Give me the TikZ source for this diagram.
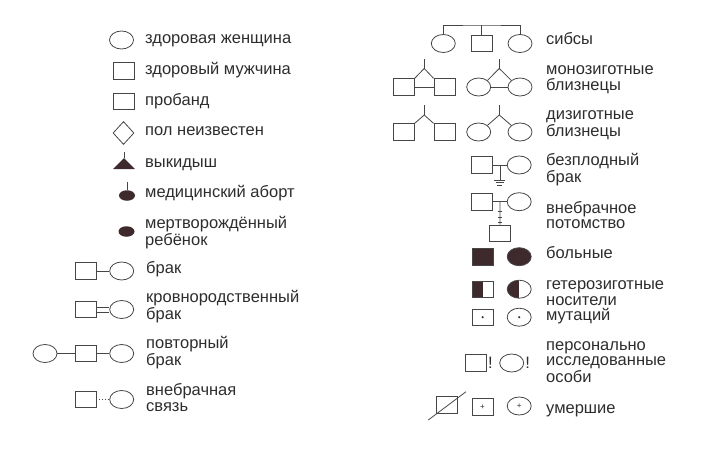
\documentclass[tikz,border=0pt]{standalone}
\usepackage{fontspec}
\setmainfont{Liberation Sans}
\usetikzlibrary{shapes.geometric, positioning}
\definecolor{ink}{RGB}{70,70,70}
\definecolor{txt}{RGB}{45,45,45}
\definecolor{sick}{RGB}{62,42,44}
\tikzstyle{female} = [ellipse, draw=ink, line width=0.8pt, minimum width=24pt, minimum height=18pt, inner sep=0pt]
\tikzstyle{male} = [rectangle, draw=ink, line width=0.8pt, minimum width=21pt, minimum height=16.5pt, inner sep=0pt]
\tikzstyle{unknown} = [diamond, draw=ink, line width=0.8pt, minimum width=21pt, minimum height=23pt, inner sep=0pt]
\tikzstyle{blob} = [ellipse, fill=sick, minimum width=16pt, minimum height=10.5pt, inner sep=0pt]
\tikzstyle{halffill} = [path picture={\fill[sick] (path picture bounding box.north west) rectangle (path picture bounding box.south);}]
\tikzstyle{lbl} = [anchor=base west, inner sep=0pt, align=left, text=txt, font=\fontsize{16.5}{15.3}\selectfont]
\tikzstyle{line} = [draw=ink, line width=0.8pt]

\begin{document}
\begin{tikzpicture}[x=1pt,y=-1pt]
\useasboundingbox (0,0) rectangle (705,463);

% Single persons
\node[female] (wf) at (121.5,40) {};
\node[male] (hm) at (123.5,71) {};
\node[male] (pb) at (123.5,101.5) {};
\node[unknown] (ns) at (123.5,133) {};
\coordinate (mc) at (124,158);
\fill[sick] (mc) -- (113,169) -- (135,169) -- cycle;
\draw[line] (mc) -- ++(0,-6);
\node[blob] (ab) at (127,195.5) {};
\draw[line] (ab.north) -- ++(0,-8);
\node[blob] (sb) at (126.5,231.5) {};

% Marriages
\node[male] (bm) at (85.5,271) {};
\node[female] (bf) at (121.7,271) {};
\draw[line] (bm) -- (bf);
\node[male] (km) at (85.5,309.5) {};
\node[female] (kf) at (121.7,309.5) {};
\draw[line] ([yshift=2.5pt]km.east) -- ([yshift=2.5pt]kf.west);
\draw[line] ([yshift=-2.5pt]km.east) -- ([yshift=-2.5pt]kf.west);
\node[female] (rf) at (45,353.5) {};
\node[male] (rm) at (85.5,353.5) {};
\node[female] (rw) at (121.7,353.5) {};
\draw[line] (rf) -- (rm) -- (rw);
\node[male] (em) at (85.5,399.5) {};
\node[female] (ef) at (121.7,399.5) {};
\draw[line, dotted] (em) -- (ef);

% Labels, left column (base = last line)
\foreach \y/\text [count=\i] in {43.5/{здоровая женщина},
                                 74/{здоровый мужчина},
                                 105/{пробанд},
                                 135.5/{пол неизвестен},
                                 167/{выкидыш},
                                 197/{медицинский аборт},
                                 245/{мертворождённый\\ребёнок}}
    \node[lbl] (ll\i) at (145,\y) {\text};
\foreach \y/\text [count=\i] in {273.5/{брак},
                                 319/{кровнородственный\\брак},
                                 365/{повторный\\брак},
                                 411/{внебрачная\\связь}}
    \node[lbl] (lm\i) at (146,\y) {\text};

% Sibs
\node[female] (s1) at (443.3,43.5) {};
\node[male] (s2) at (481.7,43.5) {};
\node[female] (s3) at (520,43.5) {};
\coordinate (sbar) at (481.7,25);
\draw[line] (s1.north) |- (sbar) -| (s3.north);
\draw[line] (s2) -- (sbar);

% Twins
\foreach \y/\t/\n in {87/68.5/mz, 132/115/dz}{
    \node[male] (\n m1) at (403.8,\y) {};
    \node[male] (\n m2) at (444.5,\y) {};
    \coordinate (\n mt) at (424.2,\t);
    \draw[line] (\n m1.north east) -- (\n mt) -- (\n m2.north west);
    \draw[line] (\n mt) -- ++(0,-10);
    \node[female] (\n f1) at (478.7,\y) {};
    \node[female] (\n f2) at (520,\y) {};
    \coordinate (\n ft) at (499.3,\t);
    \draw[line] (\n f1.north east) -- (\n ft) -- (\n f2.north west);
    \draw[line] (\n ft) -- ++(0,-10);
}
\draw[line] (mzm1) -- (mzm2);
\draw[line] (mzf1) -- (mzf2);

% Sterile marriage
\node[male] (st1) at (482.2,165) {};
\node[female] (st2) at (519.2,165) {};
\draw[line] (st1) -- coordinate[midway] (stc) (st2);
\draw[line] (stc) -- ++(0,15) coordinate (stg);
\foreach \w/\d in {5.5/0,4/2.7,2.5/5.4}
    \draw[line] ([xshift=-\w pt, yshift=-\d pt]stg) -- ([xshift=\w pt, yshift=-\d pt]stg);

% Illegitimate offspring
\node[male] (il1) at (482.2,201.7) {};
\node[female] (il2) at (519.2,201.7) {};
\draw[line] (il1) -- coordinate[midway] (ilc) (il2);
\node[male] (ilk) at (500,233.3) {};
\draw[line] (ilc) -- (ilk.north);
\foreach \d in {10,15.5,21}
    \draw[line] ([xshift=-2.2pt, yshift=-\d pt]ilc) -- ([xshift=2.2pt, yshift=-\d pt]ilc);

% Affected, carriers, examined, dead
\node[male, fill=sick] (af1) at (482.8,256.7) {};
\node[female, fill=sick] (af2) at (519.2,256.7) {};
\node[male, halffill] (ht1) at (482.8,289.2) {};
\node[female, halffill] (ht2) at (519.2,289.2) {};
\node[male] (dt1) at (482.7,317.2) {};
\node[female] (dt2) at (519.2,317.2) {};
\fill[sick] (dt1.center) circle (1.2pt);
\fill[sick] (dt2.center) circle (1.2pt);
\node[male] (ex1) at (476,363) {};
\node[female] (ex2) at (511.7,363) {};
\node[lbl, anchor=west, right=1pt of ex1] (ex1m) {!};
\node[lbl, anchor=west, right=1pt of ex2] (ex2m) {!};
\node[male] (dd1) at (447.2,405) {};
\draw[line] (428.3,420) -- (466,391.7);
\node[male, text=txt, font=\fontsize{8}{8}\selectfont] (dd2) at (482.5,406.7) {+};
\node[female, text=txt, font=\fontsize{8}{8}\selectfont] (dd3) at (519.2,406) {+};

% Labels, right column (base = last line)
\foreach \y/\text [count=\i] in {45/{сибсы},
                                 90/{монозиготные\\близнецы},
                                 136/{дизиготные\\близнецы},
                                 182/{безплодный\\брак},
                                 228.5/{внебрачное\\потомство},
                                 258.3/{больные},
                                 320.5/{гетерозиготные\\носители\\мутаций},
                                 382/{персонально\\исследованные\\особи},
                                 413/{умершие}}
    \node[lbl] (lr\i) at (546,\y) {\text};

\end{tikzpicture}
\end{document}
